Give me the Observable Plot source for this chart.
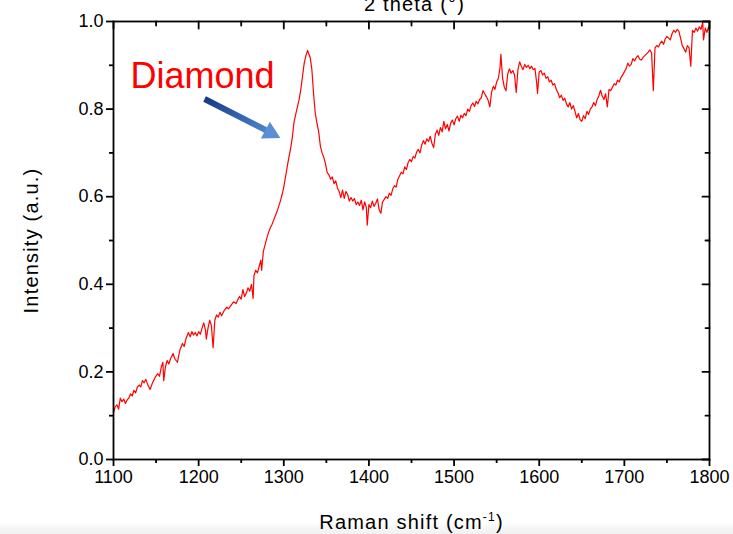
<!DOCTYPE html>
<html><head><meta charset="utf-8">
<script src="https://cdn.jsdelivr.net/npm/d3@7"></script>
<script src="https://cdn.jsdelivr.net/npm/@observablehq/plot@0.6"></script>
<style>body{margin:0;background:#fff} #chart svg{display:block}</style>
</head><body><div id="chart"></div>
<script>
const shift = [1100,1102,1104,1106,1108,1110,1112,1114,1116,1118,1120,1122,1124,1126,1128,1130,1132,1134,1136,1138,1140,1143,1146,1149,1152,1154,1156,1158,1159,1161,1163,1165,1167,1170,1172,1175,1178,1181,1183,1185,1188,1190,1192,1194,1196,1198,1200,1202,1204,1206,1208,1209,1211,1213,1215,1217,1219,1221,1223,1225,1227,1230,1233,1235,1238,1241,1244,1246,1248,1250,1252,1254,1256,1258,1260,1262,1264,1265,1267,1269,1271,1273,1274,1276,1278,1280,1282,1284,1286,1288,1290,1292,1294,1296,1298,1300,1302,1304,1306,1308,1310,1312,1314,1316,1318,1320,1322,1324,1326,1328,1329,1331,1333,1335,1337,1339,1341,1343,1345,1347,1349,1351,1353,1355,1357,1359,1361,1363,1365,1367,1369,1371,1373,1375,1377,1379,1381,1383,1385,1387,1389,1391,1393,1395,1397,1398,1400,1402,1404,1406,1408,1410,1412,1414,1416,1418,1420,1422,1424,1426,1428,1430,1432,1434,1436,1438,1440,1442,1444,1446,1448,1450,1452,1454,1456,1458,1460,1462,1464,1466,1468,1470,1472,1474,1476,1478,1480,1482,1484,1486,1488,1490,1492,1494,1496,1498,1500,1502,1504,1506,1508,1510,1512,1514,1516,1518,1520,1522,1524,1526,1528,1530,1532,1534,1536,1538,1540,1542,1544,1546,1548,1550,1552,1554,1555,1557,1559,1561,1563,1565,1567,1569,1571,1573,1575,1577,1579,1581,1583,1585,1587,1589,1591,1593,1595,1597,1598,1600,1602,1604,1606,1608,1610,1612,1614,1616,1618,1620,1622,1624,1626,1628,1630,1632,1634,1636,1638,1640,1642,1644,1646,1648,1650,1652,1654,1656,1658,1660,1662,1664,1666,1668,1670,1672,1674,1676,1678,1680,1682,1684,1686,1688,1690,1692,1694,1696,1698,1700,1702,1704,1706,1708,1710,1712,1714,1716,1718,1720,1722,1724,1726,1728,1730,1732,1734,1736,1738,1740,1742,1744,1746,1748,1750,1752,1754,1756,1758,1760,1762,1764,1766,1768,1770,1772,1774,1776,1778,1780,1782,1784,1786,1788,1790,1792,1793,1795,1797,1799,1800];
const intensity = [0.108,0.120,0.125,0.115,0.140,0.132,0.138,0.128,0.136,0.140,0.150,0.145,0.158,0.152,0.165,0.170,0.166,0.180,0.175,0.183,0.172,0.160,0.176,0.188,0.196,0.190,0.210,0.222,0.180,0.212,0.226,0.218,0.230,0.242,0.230,0.222,0.250,0.265,0.258,0.275,0.290,0.280,0.292,0.284,0.290,0.282,0.292,0.286,0.300,0.312,0.296,0.275,0.300,0.318,0.305,0.255,0.318,0.330,0.325,0.336,0.328,0.340,0.348,0.344,0.352,0.360,0.356,0.365,0.372,0.366,0.388,0.372,0.380,0.392,0.384,0.400,0.368,0.420,0.432,0.426,0.440,0.455,0.432,0.475,0.490,0.505,0.518,0.528,0.536,0.546,0.556,0.566,0.578,0.590,0.605,0.622,0.645,0.668,0.690,0.710,0.735,0.770,0.788,0.805,0.822,0.845,0.875,0.905,0.922,0.934,0.928,0.918,0.890,0.835,0.790,0.768,0.748,0.715,0.700,0.690,0.675,0.655,0.650,0.640,0.645,0.630,0.636,0.620,0.612,0.598,0.615,0.596,0.612,0.605,0.590,0.598,0.590,0.596,0.582,0.588,0.580,0.592,0.570,0.588,0.575,0.535,0.582,0.575,0.590,0.578,0.585,0.595,0.570,0.562,0.588,0.594,0.600,0.596,0.608,0.603,0.618,0.625,0.622,0.640,0.648,0.656,0.652,0.668,0.662,0.678,0.685,0.680,0.692,0.688,0.702,0.708,0.700,0.718,0.728,0.720,0.732,0.726,0.738,0.722,0.712,0.742,0.752,0.740,0.758,0.748,0.772,0.755,0.765,0.750,0.768,0.775,0.764,0.778,0.784,0.772,0.786,0.780,0.790,0.785,0.800,0.795,0.808,0.814,0.806,0.818,0.812,0.822,0.826,0.842,0.835,0.828,0.820,0.805,0.838,0.852,0.845,0.862,0.870,0.895,0.925,0.870,0.850,0.842,0.880,0.892,0.882,0.888,0.878,0.838,0.890,0.908,0.898,0.890,0.902,0.895,0.900,0.892,0.898,0.890,0.893,0.860,0.836,0.885,0.888,0.878,0.882,0.870,0.874,0.862,0.866,0.855,0.858,0.845,0.838,0.826,0.832,0.820,0.825,0.812,0.805,0.815,0.800,0.808,0.795,0.780,0.790,0.776,0.772,0.785,0.778,0.795,0.788,0.800,0.805,0.815,0.808,0.822,0.830,0.843,0.830,0.822,0.835,0.805,0.845,0.842,0.850,0.858,0.855,0.866,0.862,0.872,0.878,0.885,0.892,0.905,0.898,0.902,0.915,0.910,0.918,0.922,0.914,0.912,0.918,0.922,0.926,0.930,0.935,0.928,0.842,0.940,0.945,0.942,0.950,0.955,0.948,0.960,0.966,0.962,0.958,0.972,0.980,0.975,0.982,0.978,0.962,0.945,0.938,0.930,0.945,0.940,0.898,0.980,0.975,0.985,0.978,0.988,0.982,0.998,0.958,0.985,0.975,0.988,0.980];

const xMajorTicks = [1100,1200,1300,1400,1500,1600,1700,1800];
const xMinorTicks = [1150,1250,1350,1450,1550,1650,1750];
const yMajorTicks = [0.0,0.2,0.4,0.6,0.8,1.0];
const yMinorTicks = [0.1,0.3,0.5,0.7,0.9];
const xTitle = "Raman shift (cm-1)";
const yTitle = "Intensity (a.u.)";
const topTitle = "2 theta (°)";
const annotationLabel = [{label: "Diamond", x: 1120, y: 0.848}];
const arrowShaft = [{x1: 1207, y1: 0.823, x2: 1281, y2: 0.750}];
const arrowTip = [{x: 1296, y: 0.734}];

const data = shift.map((s, i) => ({shift: s, intensity: intensity[i]}));
const font = "'Liberation Sans', Arial, sans-serif";
const sw = 1.8;

const headAngle = 28 * Math.PI / 180, headLen = 17, headHalf = 9.5;
const headSymbol = {
  draw(context) {
    const ux = Math.cos(headAngle), uy = Math.sin(headAngle);
    const nx = -uy, ny = ux;
    const bx = -headLen * ux, by = -headLen * uy;
    context.moveTo(0, 0);
    context.lineTo(bx + headHalf * nx, by + headHalf * ny);
    context.lineTo(bx - headHalf * nx, by - headHalf * ny);
    context.closePath();
  }
};
const tickShape = {draw(context, l) { context.moveTo(0, 0); context.lineTo(0, -l); }};
const inwardTicks = (values, len, side) => Plot.vector(values, side === "top"
  ? {x: d => d, frameAnchor: "top", length: len, rotate: 180, anchor: "start", shape: tickShape, strokeWidth: sw, stroke: "black"}
  : {y: d => d, frameAnchor: "right", length: len, rotate: -90, anchor: "start", shape: tickShape, strokeWidth: sw, stroke: "black"});

const blank = () => "";
const svg = Plot.plot({
  width: 733, height: 534,
  marginLeft: 113, marginRight: 24, marginTop: 21, marginBottom: 75,
  style: {fontFamily: font, color: "black",
    background: "linear-gradient(to bottom, #ffffff 0px, #ffffff 523px, #f7f7f7 527px, #f1f1f1 534px)"},
  x: {domain: [1100, 1800]},
  y: {domain: [0, 1]},
  marks: [
    Plot.line(data, {x: "shift", y: "intensity", stroke: "#ff0000", strokeWidth: 1.2}),
    Plot.axisX(xMajorTicks, {anchor: "bottom", tickSize: 7, tickPadding: 4, fontSize: 18, tickFormat: d => String(d), label: null, strokeWidth: sw}),
    Plot.axisX(xMinorTicks, {anchor: "bottom", tickSize: 4, tickFormat: blank, label: null, strokeWidth: sw}),
    Plot.axisY(yMajorTicks, {anchor: "left", tickSize: 7, tickPadding: 3, fontSize: 18, tickFormat: d3.format(".1f"), label: null, strokeWidth: sw}),
    Plot.axisY(yMinorTicks, {anchor: "left", tickSize: 4, tickFormat: blank, label: null, strokeWidth: sw}),
    inwardTicks(xMajorTicks, 7, "top"),
    inwardTicks(xMinorTicks, 4, "top"),
    inwardTicks(yMajorTicks, 7, "right"),
    inwardTicks(yMinorTicks, 4, "right"),
    Plot.frame({stroke: "black", strokeWidth: sw}),
    Plot.link(arrowShaft, {x1: "x1", y1: "y1", x2: "x2", y2: "y2", stroke: "url(#arrowGrad)", strokeWidth: 6}),
    Plot.dot(arrowTip, {x: "x", y: "y", symbol: headSymbol, r: 8, fill: "#5b8fd3", stroke: null}),
    Plot.text(annotationLabel, {x: "x", y: "y", text: "label", fill: "#ff0000", fontSize: 36, textAnchor: "start", lineAnchor: "bottom"}),
    Plot.text([xTitle], {frameAnchor: "bottom", textAnchor: "middle", dy: 69, lineAnchor: "bottom", fontSize: 20, fill: "black"}),
    Plot.text([topTitle], {frameAnchor: "top", textAnchor: "middle", dx: 3, dy: -11, lineAnchor: "bottom", fontSize: 20, fill: "black"}),
    Plot.text([yTitle], {frameAnchor: "left", textAnchor: "middle", dx: -82, rotate: -90, fontSize: 20, fill: "black"})
  ]
});

const root = d3.select(svg);
root.insert("defs", ":first-child").html(
  '<linearGradient id="arrowGrad" x1="0" y1="0" x2="1" y2="1">' +
  '<stop offset="0" stop-color="#163889"/><stop offset="1" stop-color="#4f86c9"/></linearGradient>');
root.selectAll("text").filter(function() { return this.textContent === xTitle; }).each(function() {
  const t = d3.select(this);
  t.text("");
  t.append("tspan").text("Raman shift (cm");
  t.append("tspan").attr("dy", -8).attr("font-size", 12).text("-1");
  t.append("tspan").attr("dy", 8).text(")");
});
root.selectAll("text").filter(function() {
  return this.textContent === "Raman shift (cm-1)" || this.textContent === yTitle || this.textContent === topTitle;
}).attr("letter-spacing", "1.2px");
document.getElementById("chart").appendChild(svg);
</script>
</body></html>
